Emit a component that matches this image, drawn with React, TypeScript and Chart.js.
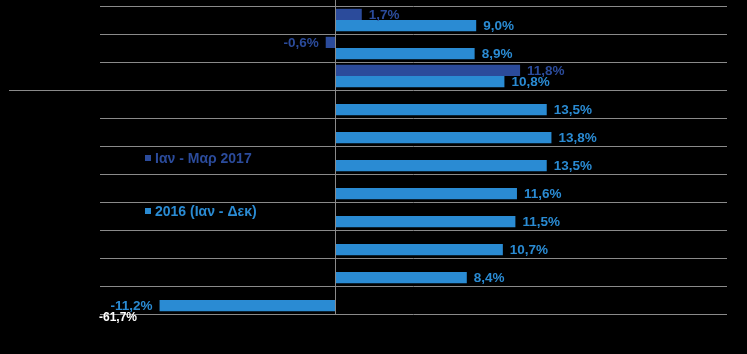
import React, { useEffect, useRef } from "react";
import { Chart, registerables } from "chart.js";

Chart.register(...registerables);

// ---- data ----
const categories = ["1", "2", "3", "4", "5", "6", "7", "8", "9", "10", "11"];
const seriesNames = ["Ιαν - Μαρ 2017", "2016 (Ιαν - Δεκ)"];
const q1_2017: (number | null)[] = [1.7, -0.6, 11.8, null, null, null, null, null, null, null, null];
const year2016: number[] = [9.0, 8.9, 10.8, 13.5, 13.8, 13.5, 11.6, 11.5, 10.7, 8.4, -11.2];
const clippedNote = "-61,7%";
const xMin = -15;
const xMax = 25;

const DARK = "#2b4b9b";
const LIGHT = "#2a8bd3";
const GRID = "#8a8a8a";

const fmt = (v: number) => v.toFixed(1).replace(".", ",") + "%";

export default function App() {
  const ref = useRef<HTMLCanvasElement>(null);
  useEffect(() => {
    if (!ref.current) return;
    const extras = {
      id: "extras",
      beforeDraw(chart: any) {
        const c = chart.ctx;
        c.save();
        c.fillStyle = "#000";
        c.fillRect(0, 0, chart.width, chart.height);
        c.restore();
      },
      afterDatasetsDraw(chart: any) {
        const c = chart.ctx;
        const xs = chart.scales.x;
        const ys = chart.scales.y;
        const area = chart.chartArea;
        c.save();
        // zero line
        const x0 = Math.round(xs.getPixelForValue(0)) + 0.5;
        c.strokeStyle = GRID;
        c.lineWidth = 1;
        c.beginPath();
        c.moveTo(x0, 0);
        c.lineTo(x0, area.bottom);
        c.stroke();
        // separator extension between row 3 and 4
        const ySep = Math.round((ys.getPixelForValue(2) + ys.getPixelForValue(3)) / 2) + 0.5;
        c.beginPath();
        c.moveTo(9, ySep);
        c.lineTo(area.left, ySep);
        c.stroke();
        // value labels
        c.font = "bold 13.5px Arial, 'Liberation Sans', sans-serif";
        c.textBaseline = "middle";
        chart.data.datasets.forEach((ds: any, di: number) => {
          const meta = chart.getDatasetMeta(di);
          c.fillStyle = ds.backgroundColor;
          meta.data.forEach((el: any, i: number) => {
            const v = ds.data[i];
            if (v === null || v === undefined) return;
            if (v >= 0) {
              c.textAlign = "left";
              c.fillText(fmt(v), el.x + 7, el.y + 1);
            } else {
              c.textAlign = "right";
              c.fillText(fmt(v), el.x - 7, el.y + 1);
            }
          });
        });
        // note under last bar
        const lastMeta = chart.getDatasetMeta(1);
        const lastEl = lastMeta.data[categories.length - 1];
        c.fillStyle = "#ffffff";
        c.font = "bold 12px Arial, 'Liberation Sans', sans-serif";
        c.textAlign = "left";
        c.fillText(clippedNote, area.left - 1, lastEl.y + 12);
        // legend
        c.font = "bold 14px Arial, 'Liberation Sans', sans-serif";
        const legendY = [158, 211];
        [DARK, LIGHT].forEach((col, k) => {
          c.fillStyle = col;
          c.fillRect(145, legendY[k] - 3, 6, 6);
          c.textAlign = "left";
          c.fillText(seriesNames[k], 155, legendY[k] + 1);
        });
        c.restore();
      },
    };
    const chart = new Chart(ref.current, {
      type: "bar",
      data: {
        labels: categories,
        datasets: [
          {
            label: seriesNames[0],
            data: q1_2017,
            backgroundColor: DARK,
            barPercentage: 1,
            categoryPercentage: 0.8,
          },
          {
            label: seriesNames[1],
            data: year2016,
            backgroundColor: LIGHT,
            barPercentage: 1,
            categoryPercentage: 0.8,
          },
        ],
      },
      options: {
        indexAxis: "y",
        animation: false,
        responsive: false,
        layout: { padding: { top: 6, left: 100, right: 20, bottom: 40 } },
        plugins: { legend: { display: false }, tooltip: { enabled: false } },
        scales: {
          x: {
            display: false,
            min: xMin,
            max: xMax,
          },
          y: {
            display: true,
            ticks: { display: false },
            border: { display: false },
            grid: { color: GRID, drawTicks: false, lineWidth: 1 },
          },
        },
      },
      plugins: [extras],
    });
    return () => chart.destroy();
  }, []);
  return (
    <div style={{ position: "fixed", left: 0, top: 0, width: 747, height: 354, background: "#000" }}>
      <canvas ref={ref} width={747} height={354} />
    </div>
  );
}
